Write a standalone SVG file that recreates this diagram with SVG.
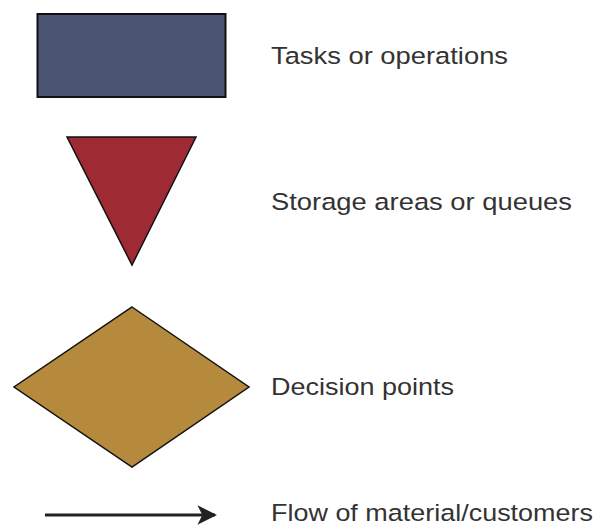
<svg xmlns="http://www.w3.org/2000/svg" width="598" height="525" viewBox="0 0 598 525">
  <style>
    .shape { stroke: #111; stroke-width: 1.5; stroke-linejoin: miter; }
    .label { font-family: "Liberation Sans", Arial, sans-serif; font-size: 24.5px; fill: #333; }
    .flow { stroke: #222; stroke-width: 3; fill: none; }
  </style>
  <defs>
    <marker id="arrowhead" viewBox="0 0 10 10" refX="9" refY="5" markerWidth="7.5" markerHeight="6.5" markerUnits="strokeWidth" orient="auto">
      <path d="M0,0 L10,5 L0,10 L2.5,5 Z" fill="#222"/>
    </marker>
  </defs>

  <rect width="598" height="525" fill="#fff"/>

  <!-- Task / operation symbol -->
  <g id="task">
    <rect x="37.5" y="14" width="188" height="83" fill="#4B5674" stroke="#111" stroke-width="2"/>
    <text class="label" x="271" y="64" textLength="237" lengthAdjust="spacingAndGlyphs">Tasks or operations</text>
  </g>

  <!-- Storage / queue symbol -->
  <g id="storage">
    <polygon class="shape" points="67,137 196,137 132,265" fill="#9E2A33"/>
    <text class="label" x="271" y="210" textLength="301" lengthAdjust="spacingAndGlyphs">Storage areas or queues</text>
  </g>

  <!-- Decision point symbol -->
  <g id="decision">
    <polygon class="shape" points="132,307 249,387 132,467 14,387" fill="#B58A3C"/>
    <text class="label" x="271" y="395" textLength="183" lengthAdjust="spacingAndGlyphs">Decision points</text>
  </g>

  <!-- Flow symbol -->
  <g id="connectors">
    <line class="flow" x1="45" y1="515" x2="215" y2="515" marker-end="url(#arrowhead)"/>
  </g>
  <g id="flow-label">
    <text class="label" x="271" y="521" textLength="322" lengthAdjust="spacingAndGlyphs">Flow of material/customers</text>
  </g>
</svg>
